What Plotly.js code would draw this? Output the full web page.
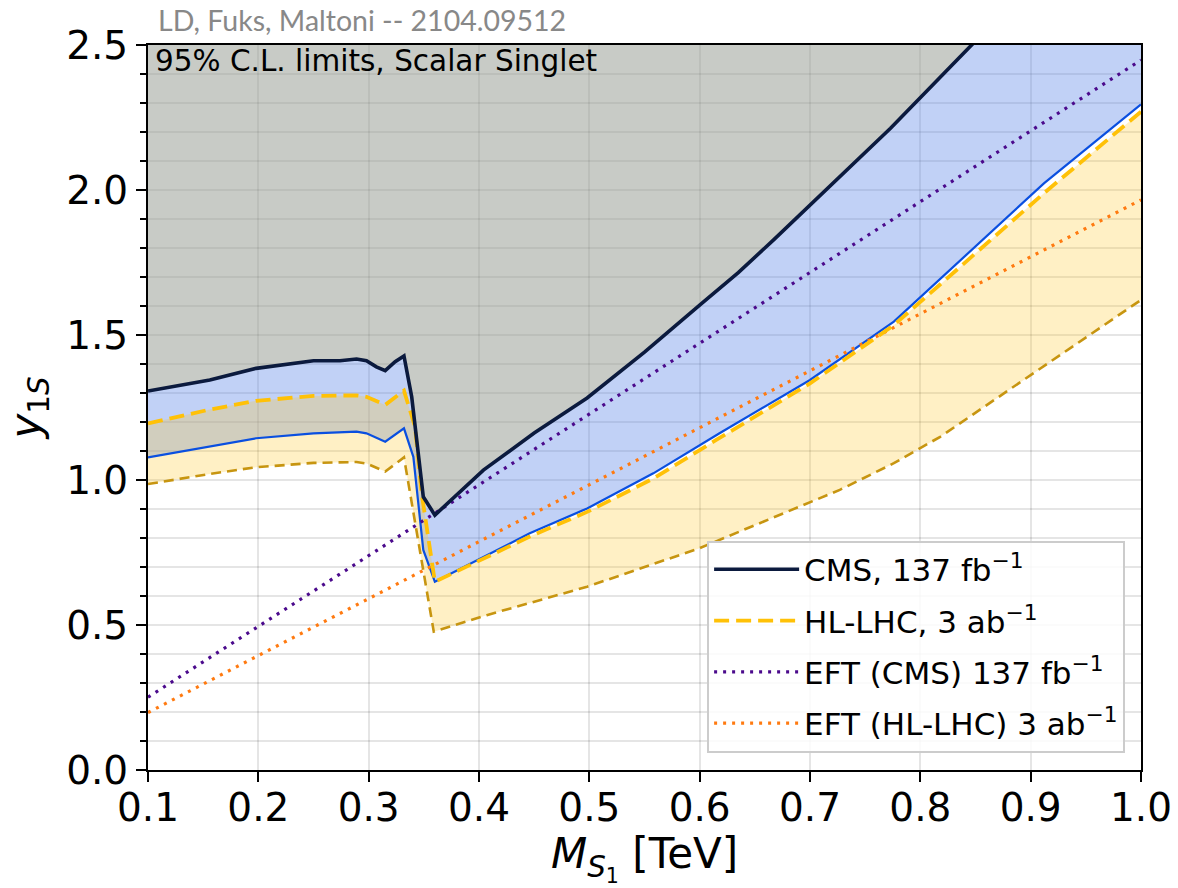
<!DOCTYPE html>
<html>
<head>
<meta charset="utf-8">
<script src="https://cdn.plot.ly/plotly-3.0.1.min.js"></script>
<style>
  html, body { margin: 0; padding: 0; background: #ffffff; }
  #chart { width: 1178px; height: 888px; }
</style>
</head>
<body>
<div id="chart"></div>
<script>
// 95% C.L. limits on the scalar-singlet coupling y_1S versus the mass M_S1 (TeV)

// CMS 137 fb^-1 observed limit
const cmsMass = [0.100, 0.156, 0.198, 0.250, 0.274, 0.289, 0.298, 0.307, 0.315, 0.324, 0.332, 0.339, 0.3495, 0.360, 0.404, 0.450, 0.498, 0.550, 0.600, 0.635, 0.667, 0.700, 0.773, 0.848, 1.000];
const cmsLimit = [1.307, 1.345, 1.385, 1.411, 1.411, 1.417, 1.411, 1.390, 1.377, 1.408, 1.428, 1.287, 0.942, 0.879, 1.034, 1.162, 1.283, 1.441, 1.603, 1.715, 1.828, 1.948, 2.213, 2.506, 3.100];

// lower edge of the CMS band
const cmsLowMass = [0.100, 0.156, 0.198, 0.250, 0.289, 0.298, 0.315, 0.332, 0.3405, 0.3495, 0.360, 0.446, 0.498, 0.558, 0.618, 0.700, 0.776, 0.912, 1.000];
const cmsLowLimit = [1.078, 1.115, 1.144, 1.161, 1.167, 1.161, 1.132, 1.178, 1.080, 0.759, 0.649, 0.816, 0.902, 1.023, 1.161, 1.345, 1.546, 2.023, 2.295];

// HL-LHC 3 ab^-1 projection
const hlMass = [0.100, 0.156, 0.198, 0.250, 0.289, 0.298, 0.315, 0.332, 0.342, 0.348, 0.360, 0.446, 0.498, 0.558, 0.615, 0.700, 0.776, 0.912, 1.000];
const hlLimit = [1.195, 1.243, 1.273, 1.290, 1.292, 1.287, 1.259, 1.308, 1.184, 0.954, 0.649, 0.805, 0.890, 1.005, 1.138, 1.333, 1.534, 1.989, 2.270];

// lower edge of the HL-LHC band
const hlLowMass = [0.100, 0.156, 0.198, 0.250, 0.289, 0.298, 0.315, 0.332, 0.359, 0.407, 0.498, 0.600, 0.727, 0.776, 0.818, 0.869, 1.000];
const hlLowLimit = [0.986, 1.021, 1.044, 1.059, 1.062, 1.057, 1.029, 1.078, 0.477, 0.534, 0.632, 0.765, 0.966, 1.058, 1.149, 1.281, 1.621];

// EFT reinterpretations
const eftMass = [0.100, 0.500, 1.000];
const eftCmsLimit = [0.251, 1.228, 2.448];
const eftHlLimit = [0.198, 0.984, 1.966];

const seriesNames = ['CMS, 137 fb<sup>\u22121</sup>', 'HL-LHC, 3 ab<sup>\u22121</sup>', 'EFT (CMS) 137 fb<sup>\u22121</sup>', 'EFT (HL-LHC) 3 ab<sup>\u22121</sup>'];
const xRange = [0.1, 1.0];
const yRange = [0.0, 2.5];

// closed polygon between an upper and a lower curve
function band(xu, yu, xl, yl, color) {
  return {
    x: xu.concat(xl.slice().reverse()),
    y: yu.concat(yl.slice().reverse()),
    mode: 'lines', fill: 'toself', fillcolor: color,
    line: { width: 0 }, hoverinfo: 'skip', showlegend: false
  };
}

const topX = [xRange[0], xRange[1]];
const topY = [yRange[1] + 1, yRange[1] + 1];

const traces = [
  // excluded region above the CMS limit
  band(topX, topY, cmsMass, cmsLimit, 'rgba(150,155,145,0.52)'),
  // CMS band
  band(cmsMass, cmsLimit, cmsLowMass, cmsLowLimit, 'rgba(100,140,232,0.40)'),
  // HL-LHC band
  band(hlMass, hlLimit, hlLowMass, hlLowLimit, 'rgba(255,200,40,0.27)'),
  { x: hlLowMass, y: hlLowLimit, mode: 'lines', showlegend: false, hoverinfo: 'skip',
    line: { color: '#c79510', width: 2.6, dash: '10px,6px' } },
  { x: cmsLowMass, y: cmsLowLimit, mode: 'lines', showlegend: false, hoverinfo: 'skip',
    line: { color: '#0a4fe0', width: 2.2 } },
  { x: eftMass, y: eftCmsLimit, mode: 'lines', name: seriesNames[2], legendgroup: 'c', legendrank: 3,
    line: { color: '#4b0a8c', width: 3.2, dash: '3px,6px' } },
  { x: eftMass, y: eftHlLimit, mode: 'lines', name: seriesNames[3], legendgroup: 'd', legendrank: 4,
    line: { color: '#ff7a10', width: 3.2, dash: '3px,6px' } },
  { x: hlMass, y: hlLimit, mode: 'lines', name: seriesNames[1], legendgroup: 'b', legendrank: 2,
    line: { color: '#ffc107', width: 3.8, dash: '15px,7px' } },
  { x: cmsMass, y: cmsLimit, mode: 'lines', name: seriesNames[0], legendgroup: 'a', legendrank: 1,
    line: { color: '#0b1a3e', width: 3.6 } }
];

const gridColor = 'rgba(0,0,0,0.10)';
const layout = {
  width: 1178, height: 888,
  margin: { l: 148, r: 37, t: 45, b: 118 },
  paper_bgcolor: '#ffffff', plot_bgcolor: '#ffffff',
  font: { family: 'DejaVu Sans', color: '#000000' },
  showlegend: true,
  xaxis: {
    range: xRange, tick0: 0.1, dtick: 0.1, tickformat: '.1f',
    ticks: 'outside', ticklen: 10, tickwidth: 2, tickcolor: '#000',
    tickfont: { size: 39 }, ticklabelstandoff: -8,
    showline: true, linecolor: '#000', linewidth: 2, mirror: true,
    showgrid: true, gridcolor: gridColor, gridwidth: 2, zeroline: false,
    title: { text: '<i>M</i><sub><i>S</i><sub>1</sub></sub> [TeV]', font: { size: 42 }, standoff: 6 }
  },
  yaxis: {
    range: yRange, tick0: 0, dtick: 0.5, tickformat: '.1f',
    ticks: 'outside', ticklen: 10, tickwidth: 2, tickcolor: '#000',
    tickfont: { size: 39 },
    showline: true, linecolor: '#000', linewidth: 2, mirror: true,
    showgrid: true, gridcolor: gridColor, gridwidth: 2, zeroline: false,
    minor: { dtick: 0.1, ticks: 'outside', ticklen: 6, tickwidth: 1.5, tickcolor: '#000',
             showgrid: true, gridcolor: gridColor, gridwidth: 2 },
    title: { text: '<i>y</i><sub>1<i>S</i></sub>', font: { size: 42 }, standoff: 12 }
  },
  legend: {
    x: 0.984, y: 0.024, xanchor: 'right', yanchor: 'bottom',
    bgcolor: 'rgba(255,255,255,0.85)', bordercolor: '#cccccc', borderwidth: 2,
    font: { size: 31 }, itemwidth: 85, tracegroupgap: 8,
    traceorder: 'grouped'
  },
  annotations: [
    { xref: 'paper', yref: 'paper', x: 0, y: 1.0345, xanchor: 'left', yanchor: 'middle', xshift: 8,
      text: 'LD, Fuks, Maltoni -- 2104.09512', showarrow: false,
      font: { family: 'Lato', size: 28.5, color: '#888888' } },
    { xref: 'paper', yref: 'paper', x: 0, y: 0.978, xanchor: 'left', yanchor: 'middle', xshift: 5,
      text: '95% C.L. limits, Scalar Singlet', showarrow: false,
      font: { family: 'DejaVu Sans', size: 29.5, color: '#000000' } }
  ]
};

Plotly.newPlot('chart', traces, layout, { displayModeBar: false, staticPlot: true });
</script>
</body>
</html>
